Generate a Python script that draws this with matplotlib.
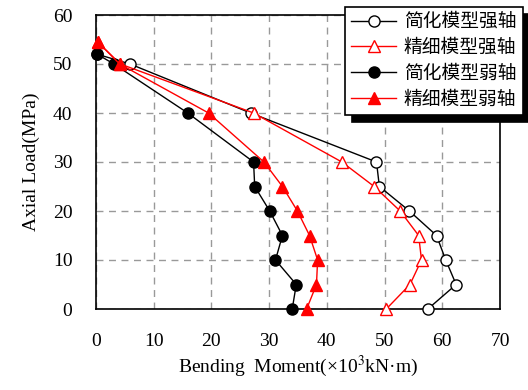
import matplotlib
matplotlib.use('Agg')
import matplotlib.pyplot as plt

plt.rcParams['font.family'] = ['Liberation Serif', 'Noto Sans CJK SC']
plt.rcParams['mathtext.fontset'] = 'stix'

# data (x: bending moment, y: axial load)
load_simple_strong = [0, 5, 10, 15, 20, 25, 30, 40, 50, 52]
mom_simple_strong = [57.5, 62.4, 60.6, 59.0, 54.3, 49.1, 48.6, 26.8, 5.9, 0.2]

load_fine_strong = [0, 5, 10, 15, 20, 25, 30, 40, 50, 54.5]
mom_fine_strong = [50.3, 54.4, 56.4, 55.9, 52.7, 48.2, 42.6, 27.3, 4.2, 0.3]

load_simple_weak = [0, 5, 10, 15, 20, 25, 30, 40, 50, 52]
mom_simple_weak = [34.0, 34.7, 31.1, 32.3, 30.1, 27.5, 27.3, 15.9, 3.1, 0.2]

load_fine_weak = [0, 5, 10, 15, 20, 25, 30, 40, 50, 54.5]
mom_fine_weak = [36.5, 38.2, 38.4, 37.0, 34.9, 32.3, 29.1, 19.5, 4.1, 0.3]

labels = ['简化模型强轴', '精细模型强轴', '简化模型弱轴', '精细模型弱轴']

fig = plt.figure(figsize=(5.28, 3.9), dpi=100)
ax = fig.add_axes([96 / 528, 1 - 309 / 390, 404 / 528, 294 / 390])

ax.plot(mom_simple_strong, load_simple_strong, '-o', color='black', mfc='white',
        mec='black', ms=8, lw=1, label=labels[0], clip_on=False, zorder=3)
ax.plot(mom_fine_strong, load_fine_strong, '-^', color='red', mfc='white',
        mec='red', ms=9, lw=1, label=labels[1], clip_on=False, zorder=3)
ax.plot(mom_simple_weak, load_simple_weak, '-o', color='black', mfc='black',
        mec='black', ms=8, lw=1, label=labels[2], clip_on=False, zorder=4)
ax.plot(mom_fine_weak, load_fine_weak, '-^', color='red', mfc='red',
        mec='red', ms=9, lw=1, label=labels[3], clip_on=False, zorder=4)

ax.set_xlim(0, 70)
ax.set_ylim(0, 60)
ax.set_xticks(range(0, 71, 10))
ax.set_yticks(range(0, 61, 10))
ax.tick_params(length=0, labelsize=14, pad=17)
ax.grid(True, linestyle=(0, (5, 4)), color='#999999', lw=1)
for s in ax.spines.values():
    s.set_linewidth(1.2)

ax.set_xlabel('Bending  Moment(×10$^3$kN·m)', fontsize=14, labelpad=3)
ax.set_ylabel('Axial Load(MPa)', fontsize=14, labelpad=9)

leg = ax.legend(loc='upper right', bbox_to_anchor=(523 / 528, 1 - 7 / 390),
                bbox_transform=fig.transFigure, fontsize=13.5, fancybox=False,
                shadow={'color': 'black', 'alpha': 1, 'ox': 5, 'oy': -5},
                framealpha=1, edgecolor='black', handlelength=2.4,
                borderpad=0.35, labelspacing=0.45, handletextpad=0.4,
                borderaxespad=0)
leg.get_frame().set_linewidth(1.2)
leg.set_zorder(10)

fig.savefig('out.png', dpi=100)
